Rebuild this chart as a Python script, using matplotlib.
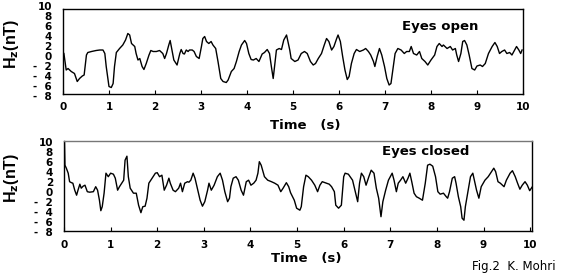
import matplotlib.pyplot as plt
import numpy as np

## data: time (s) and Hz (nT)
t_open = [0.02, 0.07, 0.11, 0.18, 0.25, 0.31, 0.36, 0.42, 0.46, 0.51, 0.54, 0.62, 0.72, 0.80, 0.87,
          0.91, 0.94, 0.98, 1.00, 1.05, 1.09, 1.12, 1.16, 1.23, 1.30, 1.36, 1.41, 1.45, 1.49, 1.56,
          1.59, 1.63, 1.67, 1.72, 1.76, 1.81, 1.87, 1.91, 1.96, 2.03, 2.10, 2.17, 2.21, 2.25, 2.30,
          2.33, 2.37, 2.41, 2.48, 2.54, 2.57, 2.61, 2.64, 2.68, 2.72, 2.75, 2.81, 2.85, 2.90, 2.96,
          3.01, 3.04, 3.08, 3.12, 3.17, 3.22, 3.26, 3.32, 3.37, 3.43, 3.48, 3.55, 3.59, 3.66, 3.72,
          3.77, 3.83, 3.88, 3.95, 3.99, 4.04, 4.09, 4.14, 4.20, 4.26, 4.33, 4.38, 4.44, 4.49, 4.53,
          4.57, 4.60, 4.64, 4.70, 4.75, 4.80, 4.86, 4.93, 4.96, 5.04, 5.11, 5.18, 5.25, 5.31, 5.38,
          5.44, 5.49, 5.55, 5.62, 5.68, 5.73, 5.78, 5.84, 5.89, 5.95, 5.98, 6.03, 6.08, 6.13, 6.18,
          6.22, 6.27, 6.33, 6.38, 6.45, 6.53, 6.58, 6.64, 6.69, 6.75, 6.78, 6.83, 6.88, 6.93, 6.99,
          7.04, 7.09, 7.13, 7.18, 7.22, 7.28, 7.35, 7.42, 7.47, 7.53, 7.57, 7.62, 7.69, 7.75, 7.80,
          7.87, 7.93, 8.00, 8.08, 8.13, 8.18, 8.24, 8.27, 8.35, 8.42, 8.47, 8.53, 8.56, 8.60, 8.65,
          8.69, 8.73, 8.78, 8.83, 8.89, 8.95, 9.00, 9.07, 9.12, 9.18, 9.25, 9.33, 9.39, 9.44, 9.49,
          9.54, 9.60, 9.65, 9.71, 9.76, 9.82, 9.86, 9.91, 9.95, 9.98]
h_open = [0.5, -2.8, -2.5, -3.1, -3.5, -5.1, -4.5, -4.0, -3.8, 0.2, 0.7, 0.9, 1.1, 1.2, 1.2,
          0.5, -2.1, -4.8, -6.1, -6.3, -5.5, -2.1, 0.7, 1.5, 2.2, 3.2, 4.5, 4.2, 2.5, 1.9,
          0.5, -0.8, -0.5, -2.1, -2.7, -1.5, 0.2, 1.1, 0.9, 0.9, 1.1, 0.5, -0.5, 0.5, 2.2,
          3.1, 1.2, -0.8, -1.8, 0.5, 1.3, 0.5, 0.4, 1.2, 0.9, 1.2, 1.2, 0.9, -0.1, -0.5,
          1.9, 3.5, 3.9, 2.9, 2.5, 2.9, 2.2, 1.5, -1.1, -4.5, -5.1, -5.3, -4.8, -3.1, -2.5,
          -1.1, 0.9, 2.2, 3.1, 2.5, 0.5, -0.7, -0.8, -0.5, -1.1, 0.4, 0.7, 1.3, 0.5, -2.1,
          -4.5, -2.1, 1.2, 1.5, 1.3, 3.2, 4.2, 1.2, -0.5, -1.1, -0.8, 0.5, 0.9, 0.5, -1.1,
          -1.8, -1.5, -0.5, 0.5, 2.2, 3.5, 2.9, 1.2, 1.9, 3.5, 4.2, 2.9, -0.1, -2.8, -4.7,
          -4.1, -1.5, 0.5, 1.3, 0.9, 1.2, 1.5, 0.9, 0.2, -1.1, -2.1, -0.1, 1.5, 0.2, -2.1,
          -4.5, -5.8, -5.5, -2.1, 0.5, 1.5, 1.2, 0.5, 0.9, 0.9, 1.9, 0.5, 0.2, 0.9, -0.5,
          -1.1, -1.8, -0.8, 0.2, 1.9, 2.5, 1.9, 2.2, 1.5, 1.9, 1.2, 1.5, 0.2, -1.1, 0.5,
          2.9, 3.1, 2.2, 0.2, -2.5, -2.8, -2.0, -1.8, -2.1, -1.5, 0.5, 1.9, 2.7, 1.9, 0.5,
          0.9, 1.2, 0.5, 0.7, 0.2, 1.2, 1.9, 1.2, 0.5, 1.2]

t_closed = [0.01, 0.02, 0.05, 0.09, 0.12, 0.16, 0.19, 0.23, 0.27, 0.30, 0.34, 0.37, 0.41, 0.45, 0.50,
            0.55, 0.63, 0.68, 0.72, 0.76, 0.79, 0.82, 0.86, 0.90, 0.95, 1.00, 1.06, 1.10, 1.15, 1.19,
            1.24, 1.28, 1.31, 1.35, 1.38, 1.42, 1.49, 1.55, 1.60, 1.65, 1.69, 1.74, 1.78, 1.82, 1.89,
            1.96, 2.00, 2.05, 2.10, 2.15, 2.20, 2.25, 2.28, 2.34, 2.39, 2.46, 2.50, 2.54, 2.59, 2.65,
            2.68, 2.72, 2.77, 2.81, 2.86, 2.92, 2.97, 3.02, 3.08, 3.11, 3.16, 3.22, 3.29, 3.35, 3.40,
            3.45, 3.51, 3.55, 3.58, 3.63, 3.69, 3.74, 3.80, 3.85, 3.91, 3.96, 4.01, 4.07, 4.12, 4.16,
            4.19, 4.23, 4.30, 4.37, 4.45, 4.52, 4.59, 4.65, 4.70, 4.77, 4.82, 4.86, 4.94, 4.99, 5.06,
            5.09, 5.14, 5.19, 5.24, 5.31, 5.38, 5.44, 5.49, 5.54, 5.60, 5.69, 5.74, 5.80, 5.83, 5.89,
            5.95, 6.00, 6.03, 6.10, 6.19, 6.25, 6.30, 6.34, 6.38, 6.43, 6.48, 6.54, 6.59, 6.65, 6.70,
            6.75, 6.80, 6.84, 6.90, 6.96, 7.04, 7.08, 7.13, 7.17, 7.22, 7.27, 7.33, 7.38, 7.42, 7.46,
            7.51, 7.56, 7.62, 7.69, 7.75, 7.80, 7.85, 7.91, 7.97, 8.02, 8.07, 8.14, 8.20, 8.23, 8.27,
            8.33, 8.38, 8.41, 8.46, 8.51, 8.54, 8.58, 8.61, 8.67, 8.72, 8.77, 8.81, 8.85, 8.90, 8.95,
            9.03, 9.10, 9.17, 9.22, 9.26, 9.31, 9.36, 9.44, 9.49, 9.57, 9.62, 9.68, 9.73, 9.78, 9.83,
            9.89, 9.94, 9.99, 10.04]
h_closed = [10.0, 5.3, 4.7, 3.7, 2.0, 1.8, 1.7, 0.3, -0.7, 0.3, 1.5, 0.7, 1.1, 1.3, 0.0,
            -0.1, 0.0, 1.0, 0.3, -1.7, -3.8, -3.0, -0.3, 3.7, 3.0, 3.7, 3.5, 2.7, 0.3, 1.0,
            1.7, 2.3, 6.3, 7.1, 3.0, 0.7, -0.3, -0.3, -2.7, -4.2, -3.0, -2.9, -1.3, 1.7, 2.7,
            3.7, 3.8, 3.0, 3.3, 0.3, 1.3, 2.7, 1.7, 0.3, 0.0, 0.7, 1.7, 0.0, 1.7, 2.0,
            1.9, 2.3, 3.7, 2.7, 0.7, -1.7, -2.9, -2.0, 0.3, 1.7, 0.3, 1.3, 3.0, 3.7, 2.3,
            0.0, -2.0, -1.3, 1.0, 2.7, 3.0, 2.3, 0.3, -0.7, 2.0, 2.3, 1.3, 1.7, 2.3, 3.7,
            6.0, 5.3, 3.0, 2.3, 2.0, 1.7, 1.3, 0.0, 0.7, 1.8, 1.0, -0.2, -1.7, -3.3, -3.7,
            -3.0, 1.0, 3.3, 3.0, 2.3, 1.3, 0.0, 1.3, 2.0, 1.8, 1.5, 1.0, 0.0, -2.7, -3.3,
            -2.7, 3.0, 3.7, 3.5, 2.3, 0.0, -2.0, 1.7, 3.7, 3.0, 1.3, 3.0, 4.3, 3.7, 0.7,
            -1.3, -5.0, -2.0, 0.3, 2.3, 3.7, 2.3, 0.0, 1.7, 2.3, 3.0, 1.7, 2.7, 3.7, 2.0,
            -0.3, -1.0, -1.3, -1.7, 1.7, 5.3, 5.5, 5.1, 3.0, 0.0, -0.5, -0.3, -1.0, -1.3, 0.0,
            2.7, 3.0, 1.7, -1.0, -3.0, -5.3, -5.7, -3.0, 0.3, 3.0, 3.7, 2.0, 0.3, -1.3, 1.0,
            2.3, 3.0, 4.0, 4.7, 4.0, 2.0, 1.7, 1.0, 2.3, 3.7, 4.2, 3.0, 1.7, 0.5, 1.3,
            2.0, 1.3, 0.2, 0.9]

x_ticks = list(range(0, 11))
y_ticks = [-8, -6, -4, -2, 0, 2, 4, 6, 8, 10]
y_labels = ['-  8', '-  6', '-  4', '-  2', '0', '2', '4', '6', '8', '10']

plt.rcParams['font.family'] = ['DejaVu Sans']
wide = 'DejaVu Sans'
narrow = 'Liberation Sans'

fig = plt.figure(figsize=(5.72, 2.74), dpi=100)

def panel(rect, t, h, xmax, box_top, box_bot, title, tx, ty, ylab_y, xlab_xy, dotted_top=False):
    ax = fig.add_axes(rect)
    ax.plot(t, h, color='black', lw=1.0)
    ax.set_xlim(0, xmax)
    ax.set_ylim(-8.4, 10.4)
    ## box drawn with spines, not the whole axes area
    ax.spines['top'].set_position(('data', box_top))
    ax.spines['bottom'].set_position(('data', box_bot))
    ax.spines['left'].set_bounds(box_bot, box_top)
    ax.spines['right'].set_bounds(box_bot, box_top)
    for s in ax.spines.values():
        s.set_linewidth(1.0)
    if dotted_top:
        ax.spines['top'].set_linestyle((0, (1, 1)))
        ax.spines['top'].set_color('#777777')
    ax.set_xticks(x_ticks)
    ax.set_xticklabels([str(x) for x in x_ticks], fontsize=7.5, fontweight='bold', family=wide)
    ax.tick_params(axis='x', direction='in', length=3, pad=6)
    ax.set_yticks(y_ticks)
    ax.set_yticklabels(y_labels, fontsize=7.5, fontweight='bold', family=wide)
    ax.tick_params(axis='y', length=0, pad=8)
    ax.set_yticks([-6, -4, -2, 0, 2, 4, 6, 8], minor=True)
    ax.tick_params(axis='y', which='minor', direction='in', length=3)
    ax.text(tx, ty, title, fontsize=9.5, fontweight='bold', ha='center', va='center', family=wide)
    ax.set_xlabel('Time   (s)', fontsize=9.5, fontweight='bold', family=wide)
    ax.xaxis.set_label_coords(*xlab_xy)
    ax.set_ylabel('H$_\\mathbf{z}$(nT)', fontsize=11.5, fontweight='bold', family=narrow)
    ax.yaxis.set_label_coords(-0.091, ylab_y)
    return ax

## 上图 eyes open
panel([0.1101, 0.6423, 0.8042, 0.3431], t_open, h_open, 10.0, 9.4, -7.6, 'Eyes open', 8.2, 6.0,
      0.574, (0.526, -0.223))
## 下图 eyes closed
panel([0.1119, 0.1471, 0.8182, 0.3431], t_closed, h_closed, 10.04, 10.1, -7.9, 'Eyes closed', 7.75, 8.1,
      0.593, (0.517, -0.195), dotted_top=True)

fig.text(0.825, 0.004, 'Fig.2  K. Mohri', fontsize=8.5, ha='left', va='bottom', family=wide)

fig.savefig('out.png', dpi=100)
